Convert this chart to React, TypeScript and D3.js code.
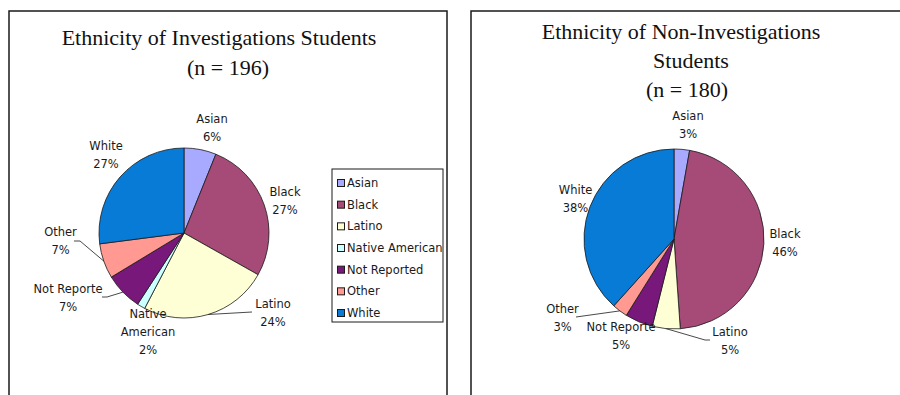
import React from 'react';
import * as d3 from 'd3';

// ---- data ----
const CATEGORIES = ['Asian', 'Black', 'Latino', 'Native American', 'Not Reported', 'Other', 'White'];
const LABEL_TEXT = [['Asian'], ['Black'], ['Latino'], ['Native', 'American'], ['Not Reporte'], ['Other'], ['White']];
const INVESTIGATIONS_COUNTS = [12, 53, 48, 3, 14, 13, 53]; // n = 196
const NON_INVESTIGATIONS_COUNTS = [5, 83, 9, 0, 9, 5, 69]; // n = 180
const LEFT_TITLE = ['Ethnicity of Investigations Students', '(n = 196)'];
const RIGHT_TITLE = ['Ethnicity of Non-Investigations', 'Students', '(n = 180)'];

// ---- styles / layout ----
const COLORS = ['#a8aaff', '#a64a78', '#ffffd6', '#ccffff', '#78187a', '#ff9991', '#077bd5'];
const LABEL_FONT = 'DejaVu Sans, Verdana, sans-serif';
const TITLE_FONT = 'Liberation Serif, Times New Roman, serif';
const LABEL_SIZE = 11.5;

type LabelLayout = { dx: number; dy: number; leader?: [number, number][] };

const LEFT_LAYOUT: LabelLayout[] = [
  { dx: 28, dy: -105.5 },
  { dx: 101, dy: -32 },
  { dx: 89, dy: 80, leader: [[68, 79]] },
  { dx: -36, dy: 99 },
  { dx: -116, dy: 65, leader: [[-77, 64], [-82, 64]] },
  { dx: -123.5, dy: 8, leader: [[-104, 8], [-110, 8]] },
  { dx: -78, dy: -78.5 },
];
const RIGHT_LAYOUT: LabelLayout[] = [
  { dx: 14, dy: -114.5 },
  { dx: 111, dy: 3.5 },
  { dx: 56, dy: 102, leader: [[31, 101], [36, 101]] },
  { dx: 0, dy: 0 },
  { dx: -53, dy: 97 },
  { dx: -111.5, dy: 79, leader: [[-98, 78]] },
  { dx: -98.5, dy: -40.5 },
];

function Pie({ cx, cy, r, counts, layout }: { cx: number; cy: number; r: number; counts: number[]; layout: LabelLayout[] }) {
  const total = d3.sum(counts);
  const pie = d3.pie<number>().sort(null).value((d) => d);
  const arcs = pie(counts);
  const arc = d3.arc<d3.PieArcDatum<number>>().innerRadius(0).outerRadius(r);
  return (
    <g transform={`translate(${cx},${cy})`}>
      {arcs.map((a, i) =>
        a.value > 0 ? (
          <path key={i} d={arc(a) || ''} fill={COLORS[i]} stroke="#1a1a1a" strokeWidth={0.8} strokeLinejoin="round" />
        ) : null
      )}
      {arcs.map((a, i) => {
        if (a.value <= 0) return null;
        const L = layout[i];
        if (!L.leader) return null;
        const mid = (a.startAngle + a.endAngle) / 2;
        const pts: [number, number][] = [[Math.sin(mid) * r, -Math.cos(mid) * r], ...L.leader];
        return <path key={'l' + i} d={d3.line()(pts) || ''} fill="none" stroke="#1a1a1a" strokeWidth={0.8} />;
      })}
      {arcs.map((a, i) => {
        if (a.value <= 0) return null;
        const L = layout[i];
        const lines = [...LABEL_TEXT[i], `${Math.round((a.value / total) * 100)}%`];
        const y0 = L.dy - ((lines.length - 1) * 18) / 2;
        return (
          <text key={'t' + i} fontFamily={LABEL_FONT} fontSize={LABEL_SIZE} fill="#1a1a1a" textAnchor="middle">
            {lines.map((s, j) => (
              <tspan key={j} x={L.dx} y={y0 + j * 18} dy="0.35em">
                {s}
              </tspan>
            ))}
          </text>
        );
      })}
    </g>
  );
}

export default function App() {
  const legendY = d3.scalePoint<string>().domain(CATEGORIES).range([183, 313]);
  return (
    <svg width={900} height={395} style={{ position: 'absolute', left: 0, top: 0, background: '#fff' }}>
      <defs>
        <clipPath id="legendClip">
          <rect x={332} y={169} width={111} height={153} />
        </clipPath>
      </defs>
      {/* panels */}
      <rect x={9} y={11} width={438} height={420} fill="#fff" stroke="#1a1a1a" strokeWidth={1.5} />
      <rect x={471} y={11} width={440} height={420} fill="#fff" stroke="#1a1a1a" strokeWidth={1.5} />

      {/* titles */}
      <text fontFamily={TITLE_FONT} fontSize={22} fill="#111" textAnchor="middle">
        <tspan x={219} y={45}>{LEFT_TITLE[0]}</tspan>
        <tspan x={228} y={75}>{LEFT_TITLE[1]}</tspan>
      </text>
      <text fontFamily={TITLE_FONT} fontSize={22} fill="#111" textAnchor="middle">
        <tspan x={681} y={39}>{RIGHT_TITLE[0]}</tspan>
        <tspan x={691} y={68}>{RIGHT_TITLE[1]}</tspan>
        <tspan x={687} y={97}>{RIGHT_TITLE[2]}</tspan>
      </text>

      <Pie cx={184} cy={233} r={85} counts={INVESTIGATIONS_COUNTS} layout={LEFT_LAYOUT} />
      <Pie cx={674} cy={239} r={90} counts={NON_INVESTIGATIONS_COUNTS} layout={RIGHT_LAYOUT} />

      {/* legend */}
      <rect x={332} y={169} width={111} height={153} fill="#fff" stroke="#1a1a1a" strokeWidth={1} />
      <g clipPath="url(#legendClip)">
        {CATEGORIES.map((c, i) => (
          <g key={c} transform={`translate(0,${legendY(c)})`}>
            <rect x={337.5} y={-3.5} width={7} height={7} fill={COLORS[i]} stroke="#1a1a1a" strokeWidth={1} />
            <text x={347} y={0} dy="0.35em" fontFamily={LABEL_FONT} fontSize={LABEL_SIZE} fill="#1a1a1a">
              {c}
            </text>
          </g>
        ))}
      </g>
    </svg>
  );
}
